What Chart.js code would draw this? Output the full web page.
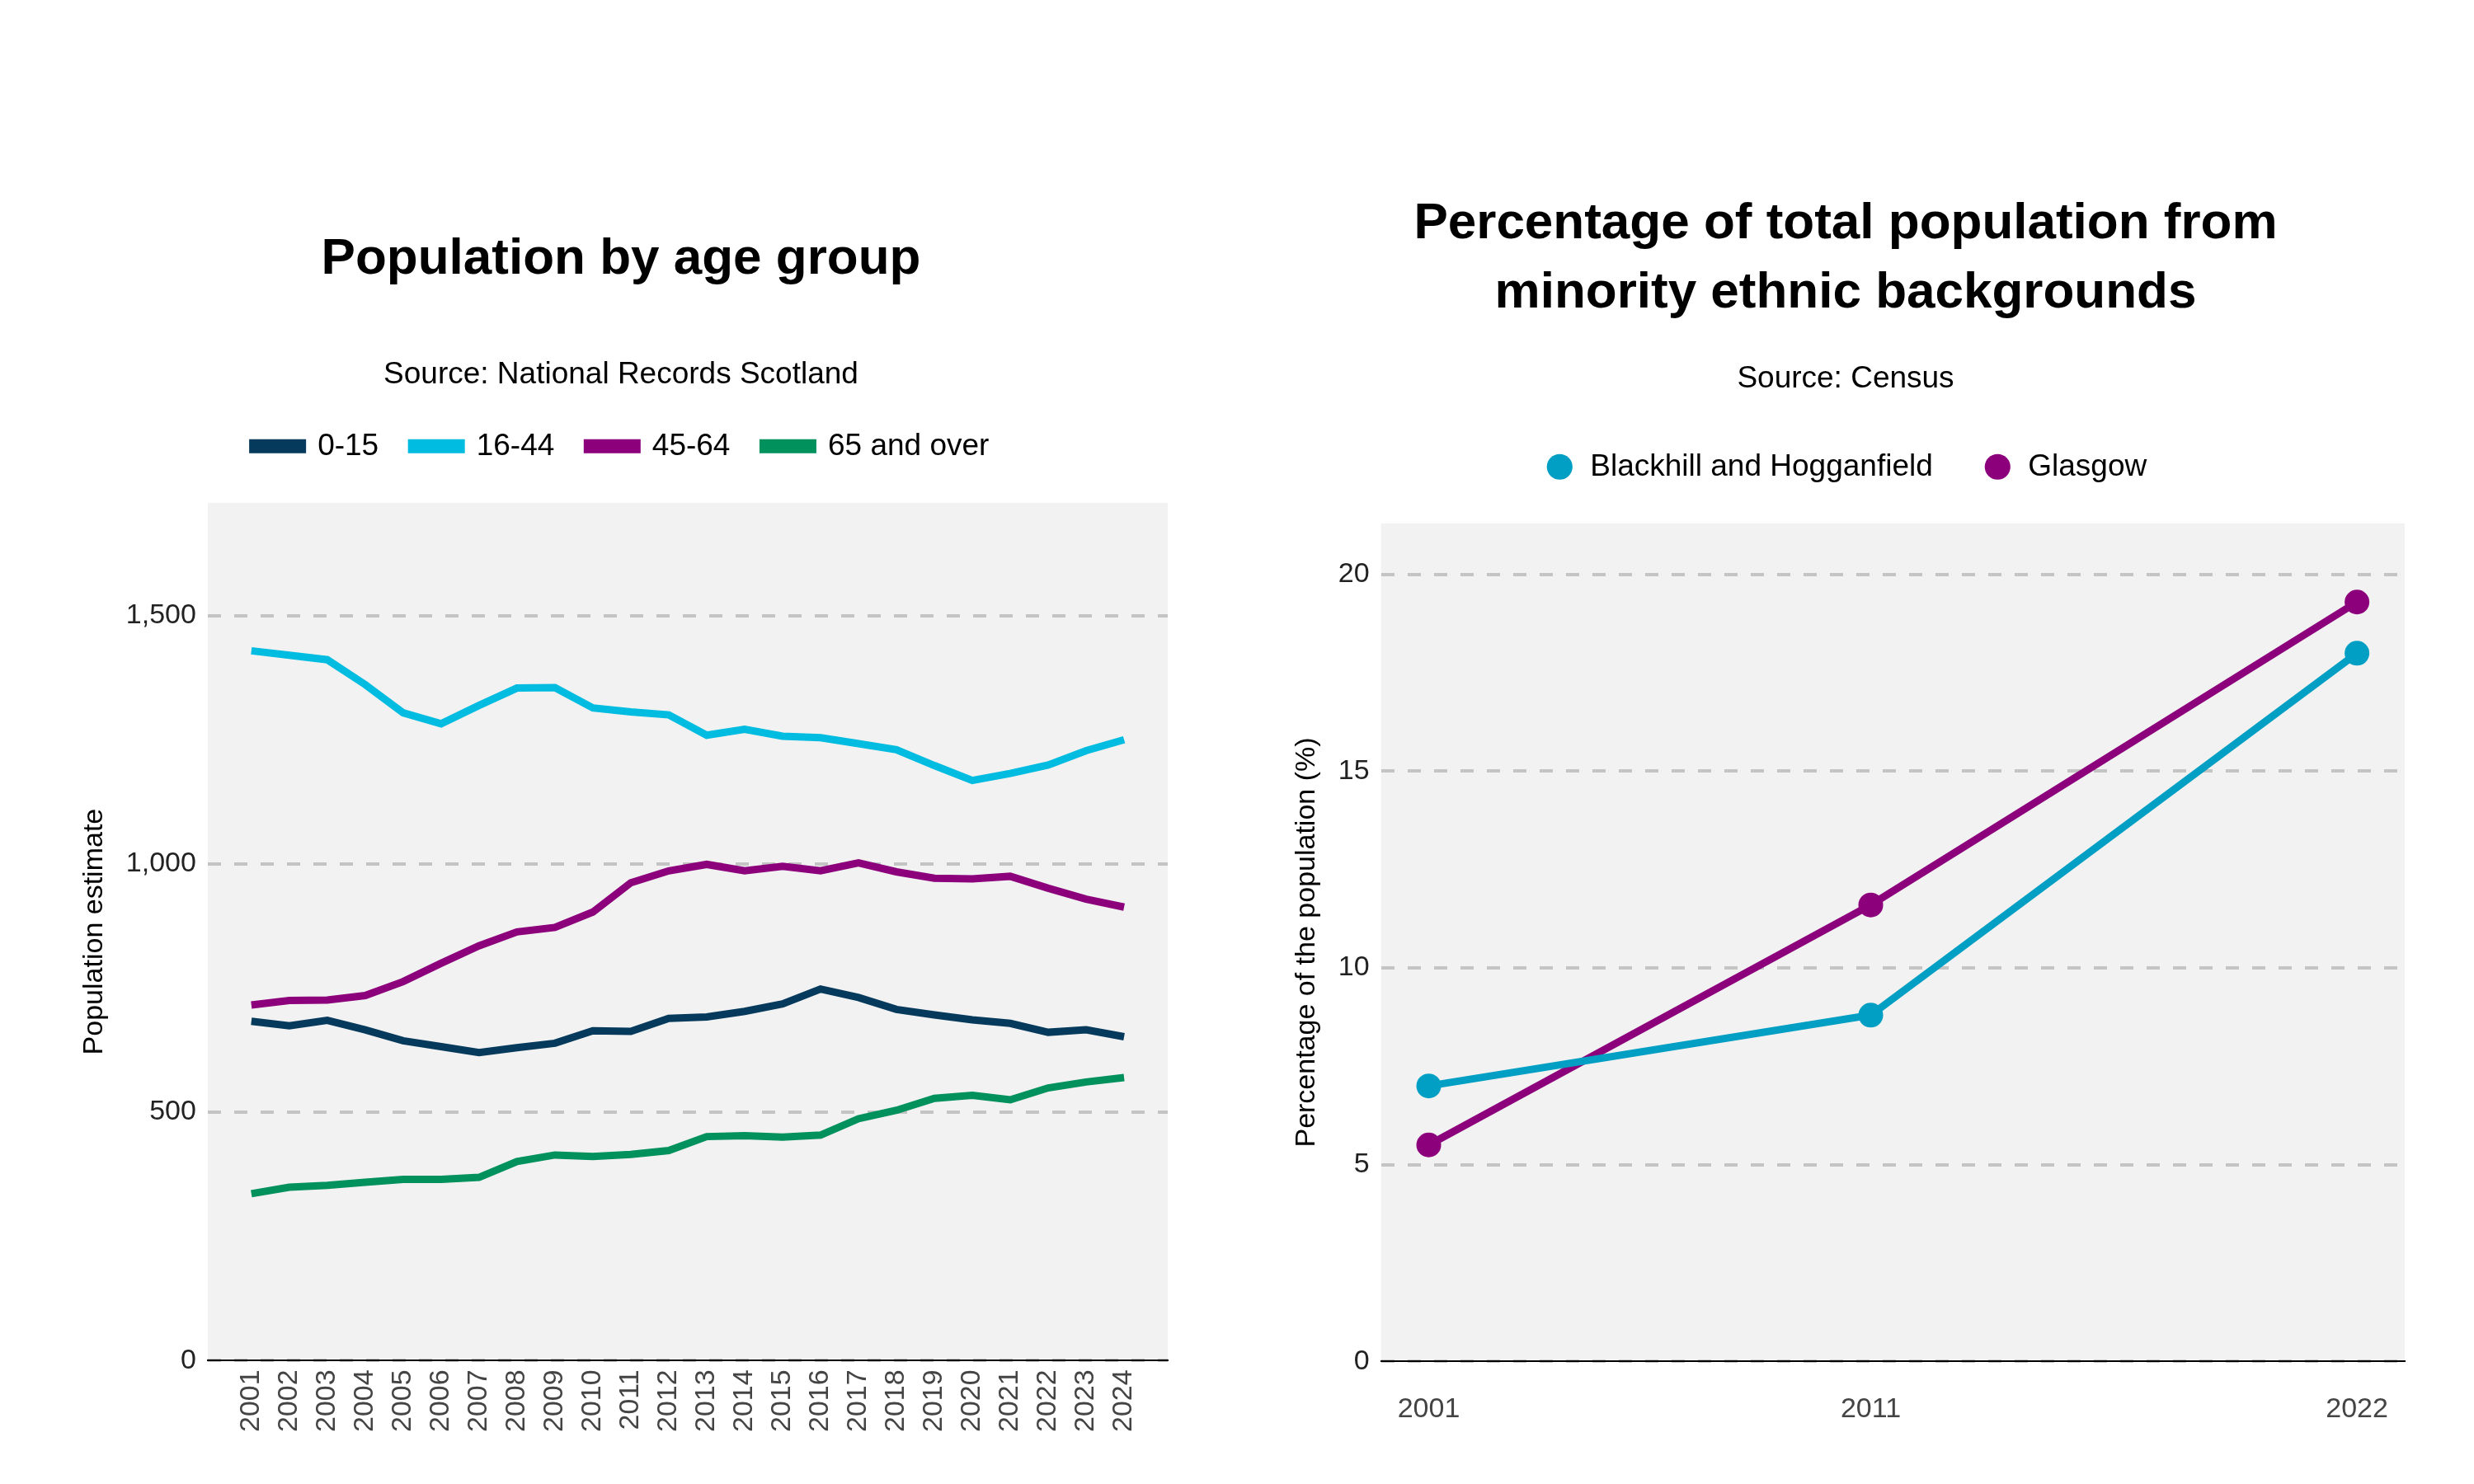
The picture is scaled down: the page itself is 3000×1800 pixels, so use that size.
<!DOCTYPE html>
<html>
<head>
<meta charset="utf-8">
<script src="https://cdn.jsdelivr.net/npm/chart.js@4"></script>
<style>
  body { margin: 0; background: #fff; font-family: "Liberation Sans", Arial, sans-serif; }
  .panel { position: absolute; top: 0; height: 1800px; }
  #left { left: 0; width: 1460px; }
  #right { left: 1540px; width: 1440px; }
</style>
</head>
<body>
<div class="panel" id="left"><canvas id="ageChart"></canvas></div>
<div class="panel" id="right"><canvas id="ethChart"></canvas></div>
<script>
const years = [2001,2002,2003,2004,2005,2006,2007,2008,2009,2010,2011,2012,2013,2014,2015,2016,2017,2018,2019,2020,2021,2022,2023,2024];
const age0to15 = [683,674,685,666,644,632,620,630,639,664,663,689,692,703,718,748,731,707,696,686,679,661,666,652];
const age16to44 = [1429,1420,1411,1361,1304,1282,1319,1354,1355,1314,1306,1300,1259,1271,1257,1254,1242,1230,1198,1168,1182,1199,1228,1250];
const age45to64 = [716,725,726,735,763,800,835,863,872,903,962,986,999,986,995,986,1002,984,971,970,975,951,929,913];
const age65plus = [336,349,353,359,365,365,369,401,414,411,415,423,451,453,450,454,487,504,528,534,525,549,561,570];

const censusYears = [2001, 2011, 2022];
const blackhill = [7.0, 8.8, 18.0];
const glasgow = [5.5, 11.6, 19.3];

Chart.defaults.font.family = '"Liberation Sans", Arial, sans-serif';
Chart.defaults.color = '#000';
Chart.defaults.devicePixelRatio = 1;

// grey plot background
const plotBg = {
  id: 'plotBg',
  beforeDraw(chart) {
    const a = chart.chartArea, ctx = chart.ctx;
    ctx.save();
    ctx.fillStyle = '#f2f2f2';
    ctx.fillRect(a.left, a.top, a.right - a.left, a.bottom - a.top);
    ctx.restore();
  }
};

// extra space under the legend
function legendGap(gap) {
  return {
    id: 'legendGap',
    beforeInit(chart) {
      const fit = chart.legend.fit;
      chart.legend.fit = function () { fit.bind(chart.legend)(); this.height += gap; };
    }
  };
}

function toPts(xs, ys) {
  return xs.map((x, i) => ({ x: x, y: ys[i] }));
}

const yGrid = { color: '#c4c4c4', lineWidth: 4, drawTicks: false };
const yBorder = { display: false, dash: [16, 16] };

new Chart(document.getElementById('ageChart'), {
  type: 'line',
  data: {
    datasets: [
      { label: '0-15', data: toPts(years, age0to15), borderColor: '#063a5c', backgroundColor: '#063a5c' },
      { label: '16-44', data: toPts(years, age16to44), borderColor: '#00bce0', backgroundColor: '#00bce0' },
      { label: '45-64', data: toPts(years, age45to64), borderColor: '#8c007c', backgroundColor: '#8c007c' },
      { label: '65 and over', data: toPts(years, age65plus), borderColor: '#00915d', backgroundColor: '#00915d' }
    ]
  },
  options: {
    responsive: true,
    maintainAspectRatio: false,
    animation: false,
    elements: { line: { borderWidth: 9, tension: 0 }, point: { radius: 0 } },
    layout: { padding: { left: 90, right: 44, top: 278, bottom: 60 } },
    plugins: {
      title: { display: true, text: 'Population by age group', font: { size: 62, weight: 'bold' }, padding: { bottom: 80 } },
      subtitle: { display: true, text: 'Source: National Records Scotland', font: { size: 37 }, padding: { bottom: 6 } },
      legend: {
        labels: { boxWidth: 60, boxHeight: 8, font: { size: 37 }, padding: 40 }
      },
      tooltip: { enabled: false }
    },
    scales: {
      x: {
        type: 'linear', min: 1999.85, max: 2025.15,
        afterBuildTicks: s => { s.ticks = years.map(v => ({ value: v })); },
        ticks: { maxRotation: 90, minRotation: 90, font: { size: 34 }, color: '#444', callback: v => String(v) },
        grid: { display: false },
        border: { color: '#000', width: 2 }
      },
      y: {
        min: 0, max: 1727,
        afterBuildTicks: s => { s.ticks = [0, 500, 1000, 1500].map(v => ({ value: v })); },
        ticks: { font: { size: 34 }, color: '#222', padding: 14, callback: v => v.toLocaleString('en-GB') },
        grid: yGrid,
        border: yBorder,
        title: { display: true, text: 'Population estimate', font: { size: 34 } }
      }
    }
  },
  plugins: [plotBg, legendGap(40)]
});

new Chart(document.getElementById('ethChart'), {
  type: 'line',
  data: {
    datasets: [
      { label: 'Blackhill and Hogganfield', data: toPts(censusYears, blackhill), borderColor: '#009fc3', backgroundColor: '#009fc3' },
      { label: 'Glasgow', data: toPts(censusYears, glasgow), borderColor: '#8c007c', backgroundColor: '#8c007c' }
    ]
  },
  options: {
    responsive: true,
    maintainAspectRatio: false,
    animation: false,
    elements: { line: { borderWidth: 9, tension: 0 }, point: { radius: 15, borderWidth: 0 } },
    layout: { padding: { left: 20, right: 64, top: 230, bottom: 40 } },
    plugins: {
      title: { display: true, text: ['Percentage of total population from', 'minority ethnic backgrounds'], font: { size: 62, weight: 'bold', lineHeight: 1.35 }, padding: { bottom: 40 } },
      subtitle: { display: true, text: 'Source: Census', font: { size: 37 }, padding: { bottom: 6 } },
      legend: {
        labels: { usePointStyle: true, pointStyle: 'circle', boxHeight: 22, font: { size: 37 }, padding: 60 }
      },
      tooltip: { enabled: false }
    },
    scales: {
      x: {
        type: 'linear', min: 1999.92, max: 2023.08,
        afterBuildTicks: s => { s.ticks = censusYears.map(v => ({ value: v })); },
        ticks: { font: { size: 34 }, color: '#444', padding: 30, callback: v => String(v) },
        grid: { display: false },
        border: { color: '#000', width: 2 }
      },
      y: {
        min: 0, max: 21.3,
        afterBuildTicks: s => { s.ticks = [0, 5, 10, 15, 20].map(v => ({ value: v })); },
        ticks: { font: { size: 34 }, color: '#222', padding: 14 },
        grid: yGrid,
        border: yBorder,
        title: { display: true, text: 'Percentage of the population (%)', font: { size: 34 } }
      }
    }
  },
  plugins: [plotBg, legendGap(40)]
});
</script>
</body>
</html>
